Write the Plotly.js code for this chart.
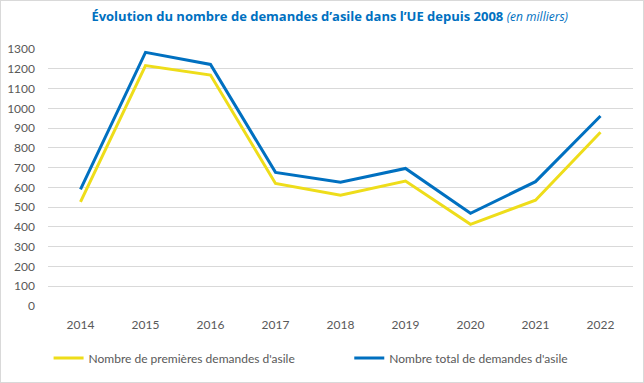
<!DOCTYPE html>
<html>
<head>
<meta charset="utf-8">
<script src="https://cdn.plot.ly/plotly-3.0.1.min.js"></script>
<style>
html,body{margin:0;padding:0;background:#fff;}
#wrap{width:644px;height:383px;box-sizing:border-box;border:1px solid #d9d9d9;overflow:hidden;}
#chart{width:642px;height:381px;}
</style>
</head>
<body>
<div id="wrap"><div id="chart"></div></div>
<script>
const years = ["2014","2015","2016","2017","2018","2019","2020","2021","2022"];
const firstTime = [527, 1216, 1168, 620, 560, 632, 413, 535, 879];
const total = [590, 1283, 1222, 676, 626, 696, 469, 629, 961];
const yTicks = [0,100,200,300,400,500,600,700,800,900,1000,1100,1200,1300];

const traces = [
  {x: years, y: firstTime, type: 'scatter', mode: 'lines', name: "Nombre de premières demandes d'asile",
   line: {color: '#EEDD1A', width: 3}, legend: 'legend'},
  {x: years, y: total, type: 'scatter', mode: 'lines', name: "Nombre total de demandes d'asile",
   line: {color: '#0070C0', width: 3}, legend: 'legend2'}
];

const legFont = {size: 12, color: '#595959'};
const layout = {
  width: 642, height: 381,
  margin: {l: 47, r: 10, t: 48, b: 76, autoexpand: false},
  paper_bgcolor: '#fff', plot_bgcolor: '#fff',
  font: {family: 'Lato, "DejaVu Sans", sans-serif', size: 12, color: '#595959'},
  title: {
    text: "<b>Évolution du nombre de demandes d’asile dans l’UE depuis 2008</b> <i><span style='font-size:12px'>(en milliers)</span></i>",
    font: {family: '"Liberation Sans Narrow", "Open Sans", sans-serif', size: 13, color: '#0070C0'},
    x: 0.512, xanchor: 'center', xref: 'container', y: 0.96, yref: 'container', yanchor: 'middle'
  },
  xaxis: {type: 'category', range: [-0.5, 8.5], showgrid: false, zeroline: false, showline: false,
    ticks: '', tickfont: {size: 12, color: '#595959'}, ticklabelstandoff: 10},
  yaxis: {range: [0, 1300], tickvals: yTicks, showgrid: true, gridcolor: '#d9d9d9', gridwidth: 1,
    zeroline: false, showline: false, ticks: '', tickfont: {size: 12, color: '#595959'}, ticklabelstandoff: 12},
  showlegend: true,
  legend: {orientation: 'h', x: 0.001, xanchor: 'left', y: -0.202, yanchor: 'middle', font: legFont, itemwidth: 30},
  legend2: {orientation: 'h', x: 0.515, xanchor: 'left', y: -0.202, yanchor: 'middle', font: legFont, itemwidth: 30}
};

Plotly.newPlot('chart', traces, layout, {displayModeBar: false, staticPlot: true});
</script>
</body>
</html>
